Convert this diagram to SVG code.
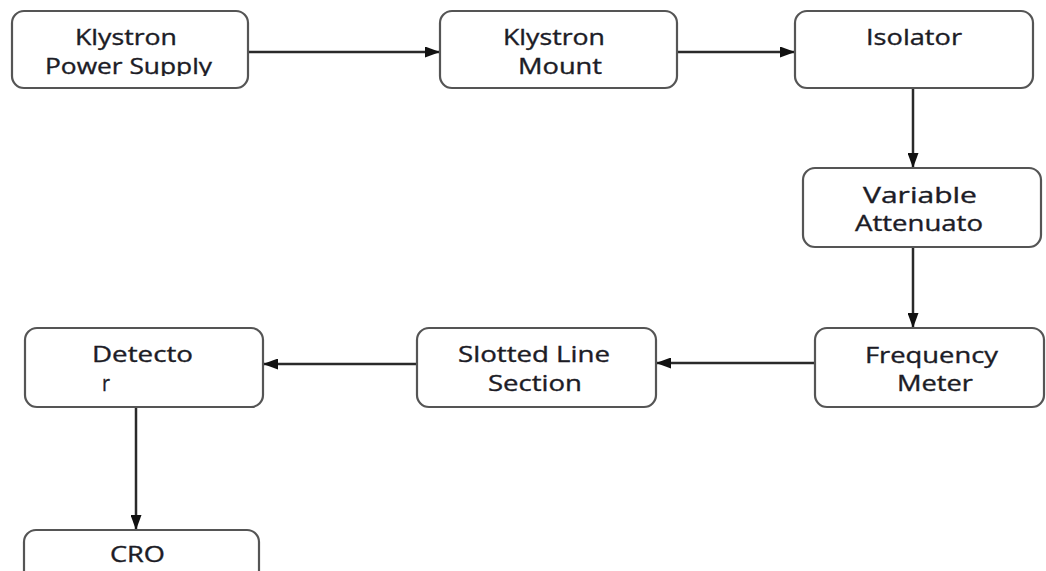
<svg xmlns="http://www.w3.org/2000/svg" width="1046" height="571" viewBox="0 0 1046 571">
  <style>
    .box { fill: #ffffff; stroke: #555555; stroke-width: 2.2; }
    .lbl { font-family: "Open Sans", "Liberation Sans", sans-serif; font-size: 21px; fill: #1c1c26; stroke: #1c1c26; stroke-width: 0.35; }
    .wire { stroke: #2a2a2a; stroke-width: 2.5; fill: none; marker-end: url(#head); }
  </style>
  <defs>
    <marker id="head" markerUnits="userSpaceOnUse" markerWidth="15" markerHeight="11" refX="15" refY="5.5" orient="auto">
      <path d="M0,0 L15,5.5 L0,11 z" fill="#111"/>
    </marker>
    <clipPath id="cut1">
      <rect x="12" y="11" width="236" height="65"/>
    </clipPath>
  </defs>
  <rect width="1046" height="571" fill="#ffffff"/>

  <g id="connectors">
    <path class="wire" d="M248,52 H440"/>
    <path class="wire" d="M677,52 H795"/>
    <path class="wire" d="M913,88 V168"/>
    <path class="wire" d="M913,247 V328"/>
    <path class="wire" d="M815,363 H656"/>
    <path class="wire" d="M417,364 H263"/>
    <path class="wire" d="M136,407 V530"/>
  </g>

  <g id="klystron-power-supply">
    <rect class="box" x="12" y="11" width="236" height="77" rx="12"/>
    <text class="lbl" x="75" y="45" textLength="102" lengthAdjust="spacingAndGlyphs">Klystron</text>
    <text class="lbl" x="45" y="74" textLength="167" lengthAdjust="spacingAndGlyphs" clip-path="url(#cut1)">Power Supply</text>
  </g>

  <g id="klystron-mount">
    <rect class="box" x="440" y="11" width="237" height="77" rx="12"/>
    <text class="lbl" x="503" y="45" textLength="102" lengthAdjust="spacingAndGlyphs">Klystron</text>
    <text class="lbl" x="518" y="74" textLength="84" lengthAdjust="spacingAndGlyphs">Mount</text>
  </g>

  <g id="isolator">
    <rect class="box" x="795" y="11" width="238" height="77" rx="12"/>
    <text class="lbl" x="866" y="45" textLength="96" lengthAdjust="spacingAndGlyphs">Isolator</text>
  </g>

  <g id="variable-attenuator">
    <rect class="box" x="803" y="168" width="238" height="79" rx="12"/>
    <text class="lbl" x="863" y="203" textLength="114" lengthAdjust="spacingAndGlyphs">Variable</text>
    <text class="lbl" x="855" y="231" textLength="128" lengthAdjust="spacingAndGlyphs">Attenuato</text>
  </g>

  <g id="frequency-meter">
    <rect class="box" x="815" y="328" width="229" height="79" rx="12"/>
    <text class="lbl" x="865" y="363" textLength="133" lengthAdjust="spacingAndGlyphs">Frequency</text>
    <text class="lbl" x="897" y="391" textLength="76" lengthAdjust="spacingAndGlyphs">Meter</text>
  </g>

  <g id="slotted-line-section">
    <rect class="box" x="417" y="328" width="239" height="79" rx="12"/>
    <text class="lbl" x="458" y="362" textLength="152" lengthAdjust="spacingAndGlyphs">Slotted Line</text>
    <text class="lbl" x="488" y="391" textLength="94" lengthAdjust="spacingAndGlyphs">Section</text>
  </g>

  <g id="detector">
    <rect class="box" x="25" y="328" width="238" height="79" rx="12"/>
    <text class="lbl" x="92" y="362" textLength="101" lengthAdjust="spacingAndGlyphs">Detecto</text>
    <text class="lbl" x="102" y="391" textLength="8" lengthAdjust="spacingAndGlyphs">r</text>
  </g>

  <g id="cro">
    <rect class="box" x="24" y="530" width="235" height="79" rx="12"/>
    <text class="lbl" x="110" y="562" textLength="55" lengthAdjust="spacingAndGlyphs">CRO</text>
  </g>
</svg>
